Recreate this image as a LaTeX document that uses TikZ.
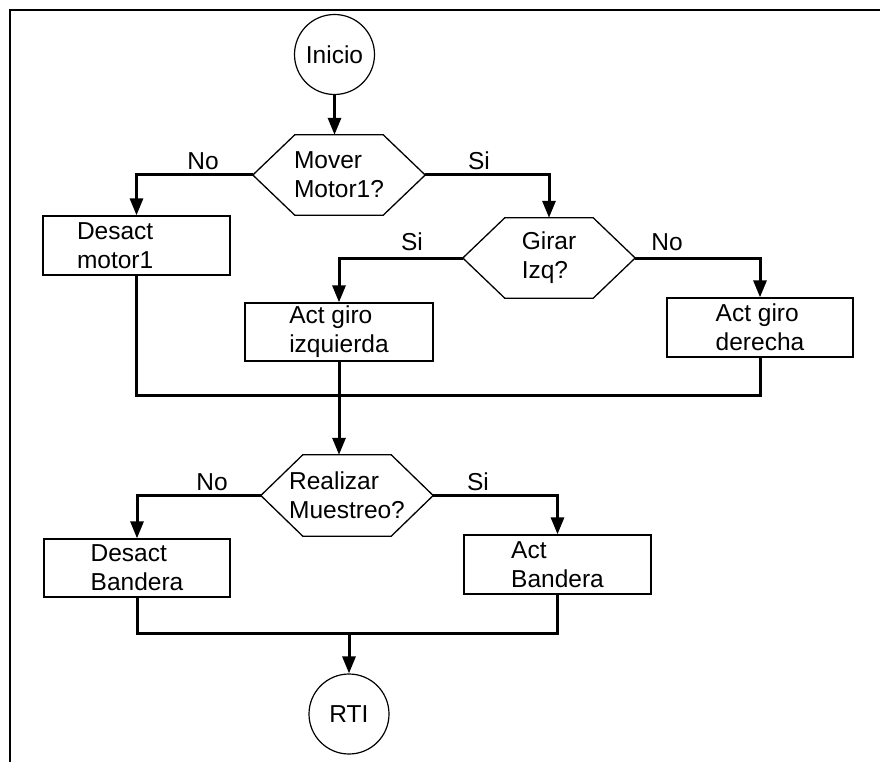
\documentclass[tikz,border=0pt]{standalone}
\usepackage{fontspec}
\setmainfont{Liberation Sans}
\usetikzlibrary{arrows.meta,calc}
\begin{document}
\begin{tikzpicture}[x=1pt,y=-1pt,
  every node/.style={font=\fontsize{24.5}{29}\selectfont},
  box/.style={draw, line width=1.3pt, minimum width=187pt, minimum height=59pt, align=left, inner sep=0pt},
  hexnode/.style={minimum width=172pt, minimum height=80pt, align=left, inner sep=0pt},
  hexline/.style={line width=1.3pt},
  term/.style={draw, circle, line width=1.2pt, minimum size=80pt, inner sep=0pt},
  conn/.style={line width=3pt},
  arr/.style={conn, -{Triangle[length=17pt,width=13pt]}},
  lbl/.style={inner sep=0pt}]
\useasboundingbox (0,0) rectangle (880,762);
\draw[line width=2pt] (10,762) -- (10,10) -- (880,10);

% nodes
\node[term] (inicio) at (334.5,54.5) {Inicio};
\node[hexnode] (mover) at (339,175) {Mover\\Motor1?};
\node[box, text width=119pt] (dm1) at (136.5,245.5) {Desact\\motor1};
\node[hexnode] (girar) at (549,258) {Girar\\Izq?};
\node[box, minimum width=188pt, minimum height=58pt] (izq) at (339,332) {Act giro\\izquierda};
\node[box, minimum width=186pt] (der) at (760,327.5) {Act giro\\derecha};
\node[hexnode, minimum height=81pt] (real) at (347,495.5) {Realizar\\Muestreo?};
\node[box, minimum width=186pt, minimum height=58pt] (db) at (137,568) {Desact\\Bandera};
\node[box] (ab) at (557.5,564.5) {Act\\Bandera};
\node[term, minimum size=80pt] (rti) at (349,714) {RTI};

\coordinate (j1) at (343,395);
\coordinate (j2) at (349,633);

% hexagon outlines
\foreach \n in {mover,girar,real}{
  \draw[hexline] (\n.west) -- ($(\n.north west)+(42,0)$) -- ($(\n.north east)+(-42,0)$)
    -- (\n.east) -- ($(\n.south east)+(-42,0)$) -- ($(\n.south west)+(42,0)$) -- cycle;
}

% connectors
\draw[arr] (inicio.south) -- (inicio.south |- mover.north);
\draw[arr] (mover.west) -| (dm1.north);
\draw[arr] (mover.east) -| (girar.north);
\draw[arr] (girar.west) -| (izq.north);
\draw[arr] (girar.east) -| (der.north);
\draw[conn] (dm1.south) |- (j1) -| (der.south);
\draw[arr] (izq.south) -- (izq.south |- real.north);
\draw[arr] (real.west) -| (db.north);
\draw[arr] (real.east) -| (ab.north);
\draw[conn] (db.south) |- (j2) -| (ab.south);
\draw[arr] (j2) -- (rti.north);

% labels
\node[lbl] (l1) at (203,161) {No};
\node[lbl] (l2) at (479,161) {Si};
\node[lbl] (l3) at (412,242) {Si};
\node[lbl] (l4) at (667,242) {No};
\node[lbl] (l5) at (212,482) {No};
\node[lbl] (l6) at (478,482) {Si};
\end{tikzpicture}
\end{document}
